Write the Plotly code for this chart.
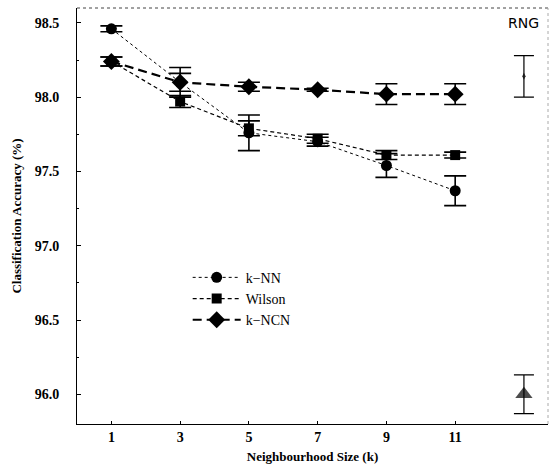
import plotly.graph_objects as go

k_values = [1, 3, 5, 7, 9, 11]
tick_labels = ["1", "3", "5", "7", "9", "11"]

knn = [98.46, 98.10, 97.76, 97.70, 97.54, 97.37]
knn_err = [0.02, 0.10, 0.12, 0.03, 0.08, 0.10]

wilson = [98.24, 97.97, 97.79, 97.72, 97.61, 97.61]
wilson_err = [0.03, 0.04, 0.05, 0.03, 0.03, 0.02]

kncn = [98.24, 98.10, 98.07, 98.05, 98.02, 98.02]
kncn_err = [0.03, 0.06, 0.03, 0.01, 0.07, 0.07]

rng_x = [13, 13]
rng_vals = [96.00, 98.14]
rng_err = [0.13, 0.14]
rng_symbols = ["triangle-up", "diamond-tall"]
rng_sizes = [15, 5]

FONT = "Liberation Serif"

fig = go.Figure()

def err(vals):
    return dict(type="data", array=vals, visible=True, color="black", thickness=1.6, width=11)

fig.add_trace(go.Scatter(
    x=k_values, y=knn, name="k\u2212NN", mode="lines+markers",
    line=dict(color="black", width=1, dash="dot"),
    marker=dict(symbol="circle", size=11, color="black"),
    error_y=err(knn_err),
))
fig.add_trace(go.Scatter(
    x=k_values, y=wilson, name="Wilson", mode="lines+markers",
    line=dict(color="black", width=1.2, dash="4px,3px"),
    marker=dict(symbol="square", size=10, color="black"),
    error_y=err(wilson_err),
))
fig.add_trace(go.Scatter(
    x=k_values, y=kncn, name="k\u2212NCN", mode="lines+markers",
    line=dict(color="black", width=2.2, dash="9px,5px"),
    marker=dict(symbol="diamond", size=13, color="black"),
    error_y=err(kncn_err),
))
fig.add_trace(go.Scatter(
    x=rng_x, y=rng_vals, mode="markers", showlegend=False,
    marker=dict(symbol=rng_symbols, size=rng_sizes, color="black",
                line=dict(color="black", width=0)),
    error_y=dict(type="data", array=rng_err, visible=True, color="black", thickness=1.2, width=10),
))

fig.add_annotation(x=13, y=98.5, text="RNG", showarrow=False, xref="x", yref="y",
                   font=dict(family="DejaVu Sans", size=14, color="black"))

fig.add_shape(type="line", xref="paper", yref="paper", x0=0, x1=1, y0=1, y1=1,
              line=dict(color="#444", width=1, dash="dot"))
fig.add_shape(type="line", xref="paper", yref="paper", x0=1, x1=1, y0=0, y1=1,
              line=dict(color="#aaa", width=1, dash="dot"))

fig.update_layout(
    width=551, height=471,
    margin=dict(l=77, r=3, t=8, b=47),
    paper_bgcolor="white", plot_bgcolor="white",
    font=dict(family=FONT, size=14, color="black"),
    showlegend=True,
    legend=dict(x=0.235, y=0.39, xanchor="left", yanchor="top",
                bgcolor="rgba(0,0,0,0)", font=dict(family=FONT, size=14),
                itemwidth=48, tracegroupgap=0),
    xaxis=dict(
        range=[0, 13.7], tickmode="array", tickvals=k_values, ticktext=tick_labels,
        showgrid=False, zeroline=False, showline=True, linecolor="black", linewidth=1,
        ticks="inside", ticklen=3, tickcolor="black",
        tickfont=dict(family=FONT, size=14, weight="bold"),
        title=dict(text="Neighbourhood Size (k)", font=dict(family=FONT, size=13, weight="bold"), standoff=8),
    ),
    yaxis=dict(
        range=[95.8, 98.6], tickmode="array",
        tickvals=[96.0, 96.5, 97.0, 97.5, 98.0, 98.5],
        ticktext=["96.0", "96.5", "97.0", "97.5", "98.0", "98.5"],
        showgrid=False, zeroline=False, showline=True, linecolor="black", linewidth=1,
        ticks="inside", ticklen=4, tickcolor="black",
        minor=dict(dtick=0.25, ticks="inside", ticklen=2, tickcolor="black"),
        ticklabelstandoff=14,
        tickfont=dict(family=FONT, size=14, weight="bold"),
        title=dict(text="Classification Accuracy (%)", font=dict(family=FONT, size=13, weight="bold"), standoff=10),
    ),
)

fig.write_html("out.html")
